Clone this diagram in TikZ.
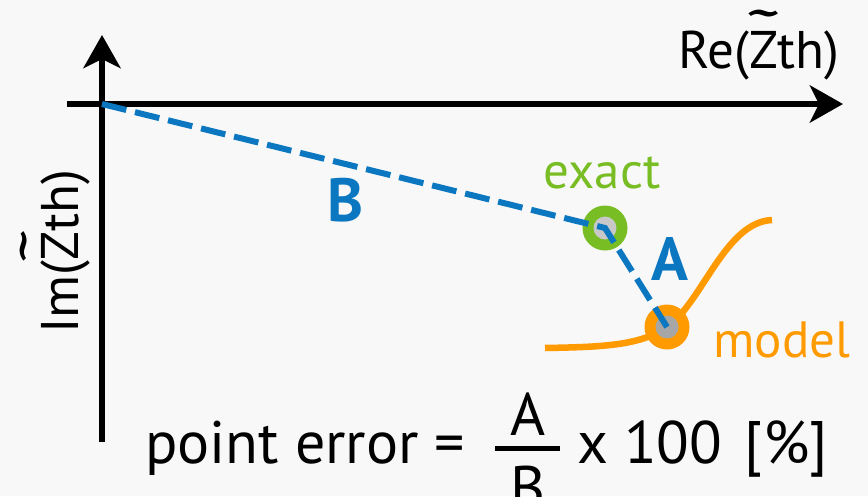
\documentclass[tikz,border=0pt]{standalone}
\usepackage{fontspec}
\setmainfont{PT Sans}
\usetikzlibrary{arrows.meta}
\definecolor{bg}{HTML}{F8F8F8}
\definecolor{bl}{HTML}{0A77C0}
\definecolor{gr}{HTML}{77BD23}
\definecolor{orng}{HTML}{FF9A00}
\definecolor{ptA}{HTML}{C8C8C8}
\definecolor{ptB}{HTML}{A6A6A6}
\newcommand\tZ{\ooalign{Z\cr\hidewidth\raisebox{0.24em}{\scalebox{2}[1.2]{\char"02DC}}\hidewidth\cr}}
\begin{document}
\begin{tikzpicture}[x=1pt,y=-1pt,
  axis/.style={line width=6pt,-{Stealth[length=33pt,width=37pt,inset=9pt]}},
  lbl/.style={inner sep=0pt,font=\fontsize{53}{60}\selectfont},
  ptlbl/.style={inner sep=0pt,font=\fontsize{51}{60}\selectfont},
  seg/.style={inner sep=0pt,text=bl,font=\fontsize{61}{70}\selectfont\bfseries},
  frm/.style={inner sep=0pt,font=\fontsize{60}{70}\selectfont},
  ring/.style={circle,inner sep=0pt,minimum size=45pt},
  dot/.style={circle,inner sep=0pt,minimum size=23pt},
  dist/.style={bl,line width=6pt,dash pattern=on 25pt off 9pt}]
\fill[bg] (0,0) rectangle (868,496);
\useasboundingbox (0,0) rectangle (868,496);
% axes
\coordinate (O) at (102,104);
\coordinate (ybot) at (102,442);
\coordinate (ytop) at (102,35);
\coordinate (xl) at (67,104);
\coordinate (xr) at (843,104);
\draw[axis] (ybot) -- (ytop);
\draw[axis] (xl) -- (xr);
\node[lbl,anchor=base] (re) at (759,68) {Re(\tZ th)};
\node[lbl,anchor=base,rotate=90] (im) at (78,252) {Im(\tZ th)};
% model curve
\coordinate (c0) at (545,348);
\coordinate (c1) at (667,327);
\coordinate (c2) at (772,220);
\draw[orng,line width=6.5pt] (c0) .. controls (600,347) and (640,346) .. (c1)
  .. controls (702,303) and (725,222) .. (c2);
% points
\node[ring,fill=gr] (E) at (605,228) {};
\node[dot,fill=ptA] (Ei) at (E) {};
\node[ring,fill=orng] (M) at (667,327) {};
\node[dot,fill=ptB] (Mi) at (M) {};
\draw[dist] (O) -- (E.center) -- (M.center);
% labels
\node[ptlbl,text=gr,anchor=base] (lex) at (602,188) {exact};
\node[ptlbl,text=orng,anchor=base] (lmo) at (782,357) {model};
\node[seg,anchor=base] (lB) at (346,221) {B};
\node[seg,anchor=base] (lA) at (670,280) {A};
% formula
\node[frm,anchor=base west] (pe) at (145,463) {point error =};
\node[frm,anchor=base] (fa) at (528,435) {A};
\node[frm,anchor=base] (fb) at (528,508) {B};
\coordinate (b1) at (495,448);
\coordinate (b2) at (560,448);
\draw[line width=5pt] (b1) -- (b2);
\node[frm,anchor=base west] (xh) at (577,463) {x 100};
\node[frm,anchor=base east] (pc) at (828,463) {[\%]};
\end{tikzpicture}
\end{document}
